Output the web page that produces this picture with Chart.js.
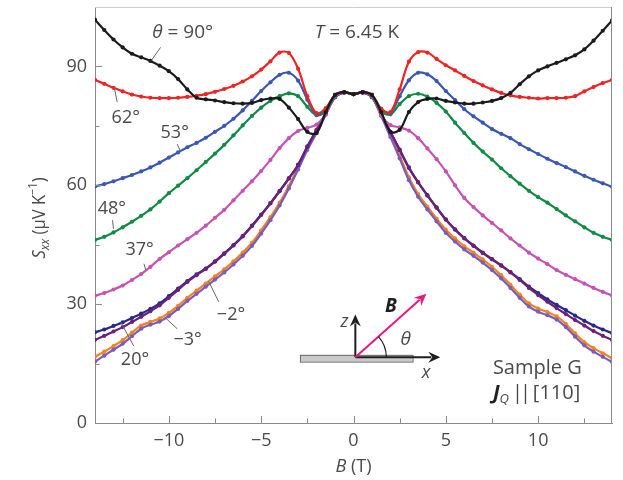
<!DOCTYPE html>
<html lang="en">
<head>
<meta charset="UTF-8" />
<title>Sxx versus B, sample G</title>
<script src="https://cdn.jsdelivr.net/npm/chart.js"></script>
<style>
  html, body { margin: 0; padding: 0; background: #fff; }
  #wrap { width: 623px; height: 480px; }
</style>
</head>
<body>
<div id="wrap"><canvas id="sxxChart" width="623" height="480"></canvas></div>
<script>
// field B (T)
const fieldB = [-14, -13.5, -13, -12.5, -12, -11.5, -11, -10.5, -10, -9.5, -9, -8.5, -8, -7.5, -7, -6.5, -6, -5.5, -5, -4.5, -4, -3.5, -3, -2.5, -2, -1.5, -1, -0.5,
  0, 0.5, 1, 1.5, 2, 2.5, 3, 3.5, 4, 4.5, 5, 5.5, 6, 6.5, 7, 7.5, 8, 8.5, 9, 9.5, 10, 10.5, 11, 11.5, 12, 12.5, 13, 13.5, 14];

// Sxx (uV/K) per angle
const s90 = [101.8, 99.2, 96.8, 94.8, 93.2, 92.3, 91.4, 90.2, 88.8, 86.8, 84.2, 82.1, 81.7, 81.4, 81.0, 80.7, 80.6, 80.8, 81.5, 81.9, 81.8, 79.6, 76.7, 73.5, 73.2, 78.5, 82.8, 83.5,
  83.0, 83.5, 82.8, 78.5, 73.5, 74.0, 78.5, 81.0, 81.8, 81.9, 81.3, 80.9, 80.6, 80.6, 80.9, 81.3, 82.0, 83.3, 85.5, 87.5, 89.0, 90.0, 90.9, 91.8, 92.8, 94.3, 96.5, 99.0, 101.6];
const s62 = [86.6, 85.6, 84.6, 83.7, 82.9, 82.4, 82.1, 82.0, 82.0, 82.1, 82.3, 82.6, 83.0, 83.6, 84.3, 85.1, 86.2, 87.5, 89.2, 91.3, 93.5, 93.4, 89.4, 82.5, 78.2, 79.5, 82.8, 83.5,
  83.0, 83.5, 82.8, 79.3, 78.5, 84.2, 91.2, 93.6, 93.5, 91.9, 90.3, 89.0, 87.6, 86.3, 85.2, 84.2, 83.3, 82.7, 82.3, 82.1, 81.9, 82.0, 82.0, 82.1, 82.5, 83.7, 84.8, 85.8, 86.6];
const s53 = [59.7, 60.3, 61.0, 61.8, 62.6, 63.5, 64.5, 65.7, 67.0, 68.3, 69.6, 70.7, 72.0, 73.5, 75.0, 76.8, 78.9, 81.3, 83.8, 86.0, 87.9, 88.4, 86.4, 81.6, 77.8, 79.3, 82.8, 83.5,
  83.0, 83.5, 82.8, 79.3, 78.3, 82.5, 86.5, 88.4, 88.0, 86.3, 83.8, 81.5, 79.2, 77.4, 75.8, 74.2, 73.0, 71.9, 70.4, 69.1, 67.9, 66.7, 65.6, 64.6, 63.5, 62.4, 61.4, 60.5, 59.6];
const s48 = [46.2, 47.0, 48.1, 49.4, 50.8, 52.3, 53.9, 55.9, 58.0, 59.9, 61.8, 63.8, 65.9, 68.0, 70.2, 72.6, 75.1, 77.5, 79.6, 81.3, 82.5, 83.2, 82.5, 79.8, 77.7, 78.6, 82.6, 83.5,
  83.0, 83.5, 82.6, 78.6, 77.9, 80.5, 82.5, 83.1, 82.4, 80.8, 78.6, 75.8, 73.2, 70.7, 68.5, 66.5, 64.3, 62.3, 60.4, 58.6, 57.0, 55.6, 54.0, 52.4, 50.9, 49.4, 48.0, 47.0, 46.2];
const s37 = [32.1, 32.8, 33.7, 34.7, 36.1, 37.6, 39.4, 41.4, 43.1, 44.8, 46.4, 48.0, 49.8, 51.8, 53.8, 56.2, 58.6, 61.0, 63.6, 66.4, 69.4, 71.9, 73.7, 74.5, 75.3, 78.0, 82.4, 83.4,
  83.0, 83.4, 82.4, 77.6, 75.2, 74.6, 73.8, 71.9, 69.3, 66.6, 63.5, 60.0, 56.8, 54.5, 52.4, 50.5, 48.6, 46.6, 44.8, 43.0, 41.5, 40.1, 38.6, 37.4, 36.3, 35.2, 34.1, 33.1, 32.2];
const s20 = [22.9, 23.6, 24.5, 25.4, 26.5, 27.6, 28.8, 30.2, 32.0, 33.9, 35.8, 37.5, 39.0, 40.8, 42.8, 44.9, 47.2, 49.8, 52.6, 55.5, 58.6, 61.8, 65.2, 69.8, 74.0, 78.2, 82.3, 83.4,
  83.0, 83.4, 82.3, 78.0, 73.5, 69.0, 64.5, 60.8, 57.5, 54.4, 51.4, 48.9, 46.7, 44.8, 43.0, 41.4, 39.8, 38.1, 36.3, 34.4, 32.8, 31.2, 29.8, 28.5, 27.1, 25.8, 24.6, 23.6, 22.7];
const sMid = [21.0, 22.0, 23.1, 24.2, 25.5, 26.8, 28.2, 29.7, 31.6, 33.6, 35.6, 37.3, 38.9, 40.7, 42.7, 44.8, 47.1, 49.7, 52.5, 55.4, 58.5, 61.7, 65.1, 69.7, 73.9, 78.1, 82.3, 83.4,
  83.0, 83.4, 82.3, 77.9, 73.4, 68.9, 64.4, 60.7, 57.4, 54.3, 51.3, 48.8, 46.6, 44.7, 42.9, 41.3, 39.7, 38.0, 36.1, 34.1, 32.3, 30.6, 29.0, 27.5, 26.0, 24.6, 23.2, 22.0, 21.0];
const sM3 = [16.7, 18.0, 19.4, 20.9, 22.8, 24.6, 25.5, 26.4, 27.8, 29.6, 31.6, 33.4, 35.2, 37.0, 38.8, 40.8, 43.0, 45.5, 48.6, 52.0, 55.6, 59.8, 64.6, 69.4, 73.6, 78.0, 82.3, 83.4,
  83.0, 83.4, 82.3, 77.8, 72.8, 67.5, 62.0, 57.8, 54.6, 51.6, 48.8, 46.6, 44.6, 43.0, 41.3, 39.4, 37.3, 34.9, 32.4, 30.2, 28.9, 28.0, 26.9, 25.0, 22.6, 20.4, 18.9, 17.6, 16.4];
const sM2 = [15.5, 17.0, 18.5, 20.0, 21.9, 23.8, 24.8, 25.6, 27.0, 28.8, 30.8, 32.6, 34.4, 36.2, 38.0, 40.0, 42.2, 44.7, 47.8, 51.2, 54.9, 59.2, 64.0, 68.9, 73.2, 77.8, 82.2, 83.4,
  83.0, 83.4, 82.2, 77.5, 72.2, 66.8, 61.3, 57.1, 53.9, 50.9, 48.0, 45.8, 43.8, 42.2, 40.5, 38.6, 36.5, 34.1, 31.6, 29.4, 28.1, 27.2, 26.1, 24.2, 21.8, 19.6, 18.0, 16.7, 15.4];

const xTickLabels = [-10, -5, 0, 5, 10];
const yTickLabels = [0, 30, 60, 90];

// drawing order: back to front
const series = [
  { name: '90°', data: s90, color: '#1b1b1b' },
  { name: '62°', data: s62, color: '#ee2424' },
  { name: '53°', data: s53, color: '#3a57b2' },
  { name: '48°', data: s48, color: '#0f8a47' },
  { name: '37°', data: s37, color: '#c653b3' },
  { name: 'mid', data: sMid, color: '#6d2079' },
  { name: '20°', data: s20, color: '#25288e' },
  { name: '−2°', data: sM2, color: '#7b5cbc' },
  { name: '−3°', data: sM3, color: '#f3821f' }
];

const FONT = '"Open Sans", "Noto Sans", sans-serif';
const INK = '#4a4a4a';

// curve labels, in data units: text left edge + leader line
const curveLabels = [
  { t: '62°', b: -13.1, s: 77.0, lead: [[-12.95, 84.6], [-12.8, 81.0]] },
  { t: '53°', b: -10.45, s: 73.3, lead: [[-9.55, 70.4], [-9.35, 68.4]] },
  { t: '48°', b: -13.85, s: 54.1, lead: [[-13.05, 51.2], [-13.0, 49.0]] },
  { t: '37°', b: -12.35, s: 43.7, lead: [[-11.35, 40.2], [-11.25, 38.6]] },
  { t: '20°', b: -12.6, s: 15.9, lead: [[-11.9, 19.4], [-12.6, 25.4]] },
  { t: '−3°', b: -9.75, s: 21.0, lead: [[-9.55, 23.8], [-10.2, 26.6]] },
  { t: '−2°', b: -7.4, s: 27.3, lead: [[-7.3, 30.6], [-7.85, 35.8]] }
];

function richText(ctx, parts, x, y, align) {
  let w = 0;
  parts.forEach(p => { ctx.font = p.f; w += ctx.measureText(p.t).width + (p.gap || 0); });
  let cx = align === 'center' ? x - w / 2 : x;
  ctx.textAlign = 'left';
  ctx.textBaseline = 'middle';
  const base = ctx.fillStyle;
  parts.forEach(p => {
    ctx.font = p.f;
    ctx.fillStyle = p.c || base;
    ctx.fillText(p.t, cx, y + (p.dy || 0));
    cx += ctx.measureText(p.t).width + (p.gap || 0);
  });
  ctx.fillStyle = base;
}

function arrow(ctx, x0, y0, x1, y1, color) {
  const ang = Math.atan2(y1 - y0, x1 - x0);
  const L = 12, W = 5.5;
  ctx.strokeStyle = color;
  ctx.fillStyle = color;
  ctx.lineWidth = 2;
  ctx.beginPath();
  ctx.moveTo(x0, y0);
  ctx.lineTo(x1 - Math.cos(ang) * (L - 3), y1 - Math.sin(ang) * (L - 3));
  ctx.stroke();
  ctx.beginPath();
  ctx.moveTo(x1, y1);
  ctx.lineTo(x1 - L * Math.cos(ang) + W * Math.sin(ang), y1 - L * Math.sin(ang) - W * Math.cos(ang));
  ctx.lineTo(x1 - (L - 4) * Math.cos(ang), y1 - (L - 4) * Math.sin(ang));
  ctx.lineTo(x1 - L * Math.cos(ang) - W * Math.sin(ang), y1 - L * Math.sin(ang) + W * Math.cos(ang));
  ctx.closePath();
  ctx.fill();
}

const framePlugin = {
  id: 'frame',
  afterDatasetsDraw(chart) {
    const { ctx, chartArea: a, scales: { x, y } } = chart;
    ctx.save();
    ctx.lineWidth = 1;
    ctx.strokeStyle = '#cbcbcb';
    ctx.beginPath();
    ctx.moveTo(a.left, a.top + 0.5);
    ctx.lineTo(a.right, a.top + 0.5);
    ctx.stroke();
    ctx.strokeStyle = '#8a8a8a';
    ctx.beginPath();
    ctx.moveTo(a.right - 0.5, a.top);
    ctx.lineTo(a.right - 0.5, a.bottom);
    ctx.stroke();
    // inward ticks
    ctx.beginPath();
    x.ticks.forEach(t => {
      const p = Math.round(x.getPixelForValue(t.value)) + 0.5;
      const len = t.value % 5 === 0 ? 7 : 4.5;
      ctx.moveTo(p, a.bottom);
      ctx.lineTo(p, a.bottom - len);
    });
    y.ticks.forEach(t => {
      if (t.value <= 0 || t.value >= y.max) return;
      const p = Math.round(y.getPixelForValue(t.value)) + 0.5;
      const len = t.value % 30 === 0 ? 7 : 4.5;
      ctx.moveTo(a.left, p);
      ctx.lineTo(a.left + len, p);
    });
    ctx.stroke();
    ctx.restore();
  }
};

const notesPlugin = {
  id: 'notes',
  afterDraw(chart) {
    const { ctx, scales: { x, y } } = chart;
    const P = (b, s) => [x.getPixelForValue(b), y.getPixelForValue(s)];
    const f18 = '18px ' + FONT;
    const f19 = '19px ' + FONT;
    const i19 = 'italic 19px ' + FONT;
    const i18 = 'italic 18px ' + FONT;
    ctx.save();
    ctx.fillStyle = INK;

    // header texts
    let p = P(-10.9, 98.6);
    richText(ctx, [{ t: 'θ', f: i19 }, { t: ' = 90°', f: f19 }], p[0], p[1], 'left');
    ctx.strokeStyle = '#666';
    ctx.lineWidth = 1;
    let a0 = P(-10.45, 94.8), a1 = P(-10.95, 91.5);
    ctx.beginPath(); ctx.moveTo(a0[0], a0[1]); ctx.lineTo(a1[0], a1[1]); ctx.stroke();
    p = P(-2.1, 98.6);
    richText(ctx, [{ t: 'T', f: i19 }, { t: ' = 6.45 K', f: f19 }], p[0], p[1], 'left');

    // curve labels
    curveLabels.forEach(l => {
      const q = P(l.b, l.s);
      richText(ctx, [{ t: l.t, f: f18 }], q[0], q[1], 'left');
      const u = P(l.lead[0][0], l.lead[0][1]), v = P(l.lead[1][0], l.lead[1][1]);
      ctx.beginPath(); ctx.moveTo(u[0], u[1]); ctx.lineTo(v[0], v[1]); ctx.stroke();
    });

    // inset geometry sketch
    const bar0 = P(-2.9, 17.2), bar1 = P(3.2, 15.5);
    ctx.fillStyle = '#c9c9c9';
    ctx.fillRect(bar0[0], bar0[1], bar1[0] - bar0[0], bar1[1] - bar0[1]);
    ctx.strokeStyle = '#6a6a6a';
    ctx.strokeRect(bar0[0] + 0.5, bar0[1] + 0.5, bar1[0] - bar0[0], bar1[1] - bar0[1]);
    const o = P(0.1, 16.6);
    const ax = P(4.7, 16.6), az = P(0.1, 27.4), ab = P(3.95, 32.6);
    arrow(ctx, o[0], o[1], ax[0], ax[1], '#1e1e1e');
    arrow(ctx, o[0], o[1], az[0], az[1], '#1e1e1e');
    arrow(ctx, o[0], o[1], ab[0], ab[1], '#e8197f');
    ctx.strokeStyle = '#1e1e1e';
    ctx.lineWidth = 1.2;
    ctx.beginPath();
    ctx.arc(o[0], o[1], 31, Math.atan2(ab[1] - o[1], ab[0] - o[0]), 0);
    ctx.stroke();
    ctx.fillStyle = INK;
    p = P(-0.7, 25.6);
    richText(ctx, [{ t: 'z', f: i18 }], p[0], p[1], 'left');
    p = P(3.7, 12.6);
    richText(ctx, [{ t: 'x', f: i18 }], p[0], p[1], 'left');
    ctx.fillStyle = '#1e1e1e';
    p = P(1.7, 29.4);
    richText(ctx, [{ t: 'B', f: 'italic bold 19px ' + FONT }], p[0], p[1], 'left');
    ctx.fillStyle = INK;
    p = P(2.55, 21.0);
    richText(ctx, [{ t: 'θ', f: i19 }], p[0], p[1], 'left');

    // sample note
    p = P(7.55, 13.9);
    richText(ctx, [{ t: 'Sample G', f: '20px ' + FONT }], p[0], p[1], 'left');
    p = P(7.55, 7.5);
    richText(ctx, [
      { t: 'J', f: 'italic bold 20px ' + FONT, c: '#1e1e1e' },
      { t: 'Q', f: 'italic 13px ' + FONT, dy: 6, gap: 3 },
      { t: '|', f: '20px ' + FONT, gap: -3 },
      { t: '|', f: '20px ' + FONT, gap: 2 },
      { t: '[110]', f: '20px ' + FONT }
    ], p[0], p[1], 'left');

    // axis titles
    richText(ctx, [{ t: 'B', f: i18 }, { t: ' (T)', f: f18 }], x.getPixelForValue(0), 467, 'center');
    ctx.translate(40, 218);
    ctx.rotate(-Math.PI / 2);
    ctx.scale(0.92, 1);
    richText(ctx, [
      { t: 'S', f: i18 },
      { t: 'xx', f: 'italic 13px ' + FONT, dy: 5 },
      { t: ' (μV K', f: f18 },
      { t: '−1', f: '12px ' + FONT, dy: -6 },
      { t: ')', f: f18 }
    ], 0, 0, 'center');
    ctx.restore();
  }
};

new Chart(document.getElementById('sxxChart'), {
  type: 'line',
  data: {
    datasets: series.map(sr => ({
      label: sr.name,
      data: fieldB.map((b, i) => ({ x: b, y: sr.data[i] })),
      borderColor: sr.color,
      backgroundColor: sr.color,
      borderWidth: 2.2,
      pointRadius: 2.1,
      pointBorderWidth: 0,
      pointBackgroundColor: sr.color,
      tension: 0.35,
      fill: false
    }))
  },
  options: {
    responsive: false,
    animation: false,
    devicePixelRatio: 1,
    layout: { padding: { top: 7, right: 11, left: 0, bottom: 0 } },
    plugins: { legend: { display: false }, tooltip: { enabled: false } },
    scales: {
      x: {
        type: 'linear',
        min: -14,
        max: 14,
        afterFit(scale) {
          scale.height = 57;
          scale.paddingLeft = 0;
          scale.paddingRight = 0;
        },
        grid: { display: false, drawTicks: false },
        border: { display: true, color: '#8a8a8a', width: 1 },
        ticks: {
          stepSize: 2.5,
          includeBounds: false,
          autoSkip: false,
          maxRotation: 0,
          padding: 7,
          color: INK,
          font: { family: FONT, size: 18 },
          callback: v => xTickLabels.includes(v) ? String(v).replace('-', '\u2212') : ''
        }
      },
      y: {
        min: 0,
        max: 105,
        afterFit(scale) {
          scale.width = 95;
          scale.paddingTop = 0;
          scale.paddingBottom = 0;
        },
        grid: { display: false, drawTicks: false },
        border: { display: true, color: '#8a8a8a', width: 1 },
        ticks: {
          stepSize: 15,
          autoSkip: false,
          padding: 8,
          color: INK,
          font: { family: FONT, size: 18 },
          callback: v => yTickLabels.includes(v) ? String(v) : ''
        }
      }
    }
  },
  plugins: [framePlugin, notesPlugin]
});
</script>
</body>
</html>
